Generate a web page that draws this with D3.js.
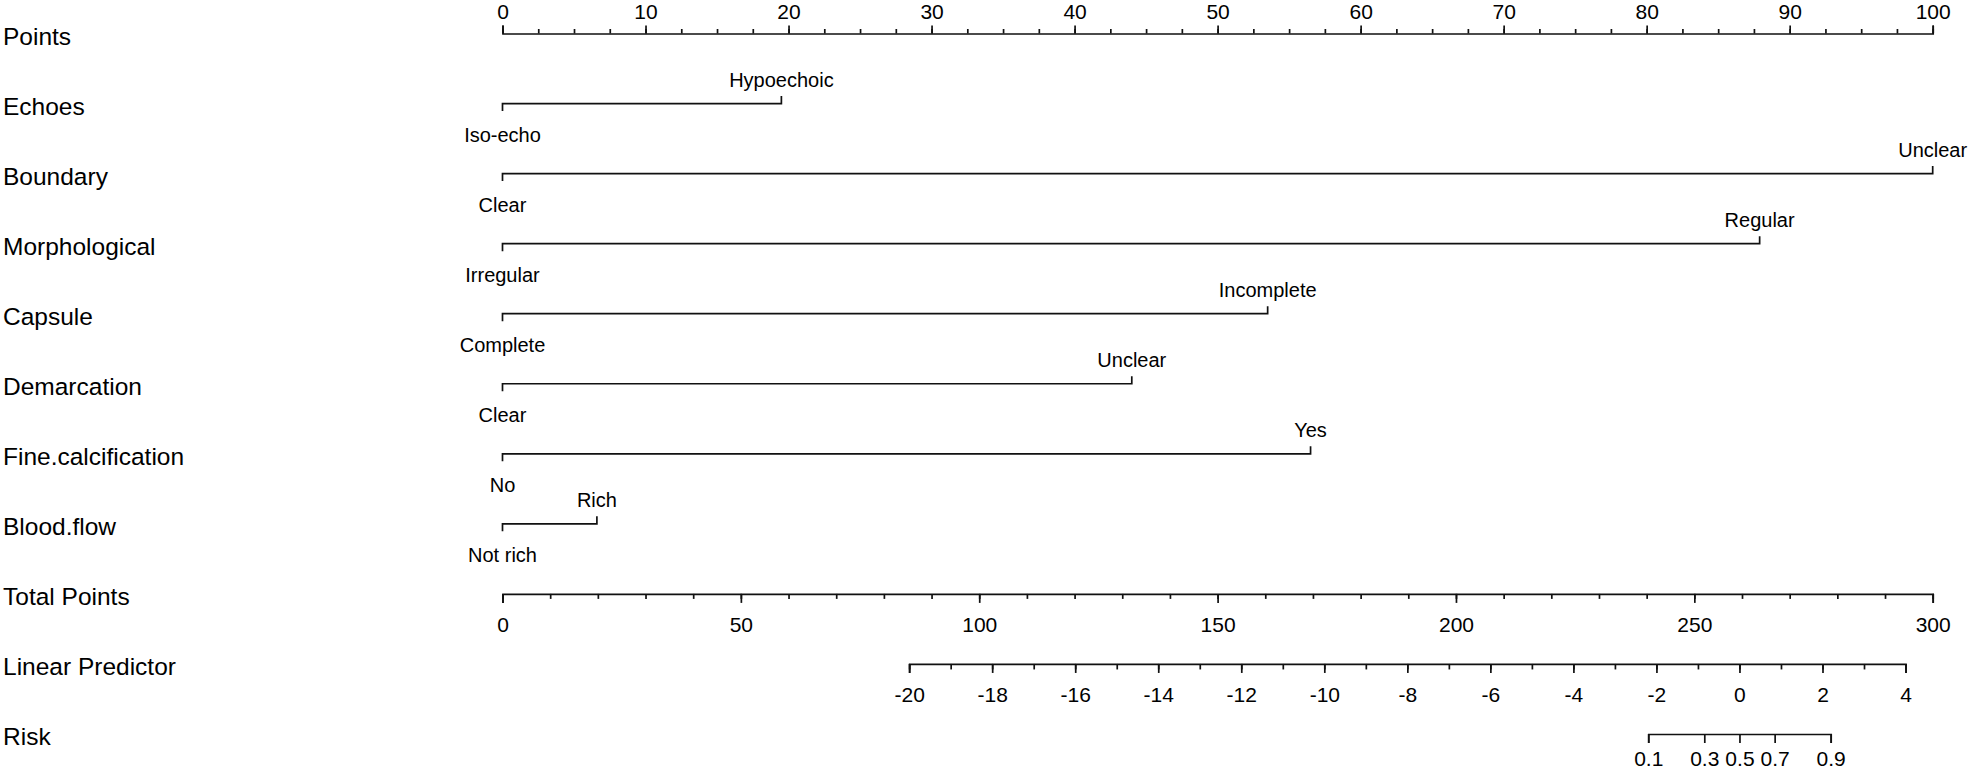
<!DOCTYPE html>
<html>
<head>
<meta charset="utf-8">
<script src="https://cdn.jsdelivr.net/npm/d3@7"></script>
<style>
  html,body{margin:0;padding:0;background:#fff;}
  svg{display:block;}
  text{font-family:"Liberation Sans", Arial, sans-serif;fill:#000;}
</style>
</head>
<body>
<svg id="chart" width="1969" height="772"></svg>
<script>
// ---------------- DATA ----------------
const rowLabels = ["Points","Echoes","Boundary","Morphological","Capsule","Demarcation",
                   "Fine.calcification","Blood.flow","Total Points","Linear Predictor","Risk"];

const variables  = ["Echoes","Boundary","Morphological","Capsule","Demarcation","Fine.calcification","Blood.flow"];
const lowLevels  = ["Iso-echo","Clear","Irregular","Complete","Clear","No","Not rich"];
const highLevels = ["Hypoechoic","Unclear","Regular","Incomplete","Unclear","Yes","Rich"];
const lowPoints  = [0, 0, 0, 0, 0, 0, 0];
const highPoints = [19.5, 100, 87.9, 53.5, 44.0, 56.5, 6.6];

const pointsRange = [0, 100];
const pointsMajor = [0,10,20,30,40,50,60,70,80,90,100];
const totalRange  = [0, 300];
const totalMajor  = [0,50,100,150,200,250,300];
const lpRange     = [-20, 4];
const lpAtTotal   = [85.3, 294.3];   // total points where LP = -20 and LP = 4
const lpMajor     = [-20,-18,-16,-14,-12,-10,-8,-6,-4,-2,0,2,4];
const riskTicks   = [0.1, 0.3, 0.5, 0.7, 0.9];

// ---------------- LAYOUT ----------------
const svg = d3.select("#chart");
const X0 = 502.5, X1 = 1932.7;
const rowY = d3.scaleLinear().domain([0, rowLabels.length - 1]).range([33.5, 734]);
const ink = "#111";
const SW = 1.7;

const xPts = d3.scaleLinear().domain(pointsRange).range([X0, X1]);
const xTot = d3.scaleLinear().domain(totalRange).range([X0, X1]);
const xLP  = d3.scaleLinear().domain(lpRange).range(lpAtTotal.map(xTot));
const logit = p => Math.log(p / (1 - p));
const xRisk = d3.scaleLinear()
  .domain([logit(riskTicks[0]), logit(riskTicks[riskTicks.length - 1])])
  .range([xLP(logit(riskTicks[0])), xLP(logit(riskTicks[riskTicks.length - 1]))]);

// row labels
svg.append("g").selectAll("text").data(rowLabels).join("text")
  .attr("x", 3)
  .attr("y", (d, i) => rowY(i) + 11)
  .attr("font-size", 24.5)
  .text(d => d);

function styleAxis(g, fs) {
  g.attr("font-family", null).attr("font-size", null);
  g.selectAll("path.domain").attr("stroke", ink).attr("stroke-width", SW);
  g.selectAll(".tick line").attr("stroke", ink).attr("stroke-width", SW);
  g.selectAll(".tick text").attr("font-size", fs).attr("fill", "#000");
}

const TFS = 21;

// ---- Points axis (top) ----
{
  const y = rowY(0);
  const gMin = svg.append("g").attr("transform", `translate(0,${y})`)
    .call(d3.axisTop(xPts).tickValues(d3.range(0, 100.01, 2.5)).tickSize(4.5).tickFormat(""));
  gMin.select(".domain").remove();
  styleAxis(gMin, TFS);
  const g = svg.append("g").attr("transform", `translate(0,${y})`)
    .call(d3.axisTop(xPts).tickValues(pointsMajor).tickSize(8).tickSizeOuter(8).tickPadding(6.3).tickFormat(d3.format("d")));
  styleAxis(g, TFS);
}

// ---- Variable rows ----
const vg = svg.append("g");
variables.forEach((v, i) => {
  const y = rowY(i + 1);
  const xa = xPts(lowPoints[i]), xb = xPts(highPoints[i]);
  vg.append("path")
    .attr("d", `M${xa},${y + 7.5}V${y}H${xb}V${y - 7.5}`)
    .attr("fill", "none").attr("stroke", ink).attr("stroke-width", SW);
  vg.append("text").attr("x", xb).attr("y", y - 17)
    .attr("text-anchor", "middle").attr("font-size", 20).text(highLevels[i]);
  vg.append("text").attr("x", xa).attr("y", y + 38)
    .attr("text-anchor", "middle").attr("font-size", 20).text(lowLevels[i]);
});

// ---- Total Points axis ----
{
  const y = rowY(8);
  const gMin = svg.append("g").attr("transform", `translate(0,${y})`)
    .call(d3.axisBottom(xTot).tickValues(d3.range(0, 300.01, 10)).tickSize(5).tickFormat(""));
  gMin.select(".domain").remove();
  styleAxis(gMin, TFS);
  const g = svg.append("g").attr("transform", `translate(0,${y})`)
    .call(d3.axisBottom(xTot).tickValues(totalMajor).tickSize(9).tickSizeOuter(9).tickPadding(14).tickFormat(d3.format("d")));
  styleAxis(g, TFS);
}

// ---- Linear Predictor axis ----
{
  const y = rowY(9);
  const gMin = svg.append("g").attr("transform", `translate(0,${y})`)
    .call(d3.axisBottom(xLP).tickValues(d3.range(-20, 4.01, 1)).tickSize(5.5).tickFormat(""));
  gMin.select(".domain").remove();
  styleAxis(gMin, TFS);
  const g = svg.append("g").attr("transform", `translate(0,${y})`)
    .call(d3.axisBottom(xLP).tickValues(lpMajor).tickSize(9).tickSizeOuter(9).tickPadding(14).tickFormat(d3.format("d")));
  styleAxis(g, TFS);
  g.selectAll(".tick text").text(d => String(d));
}

// ---- Risk axis ----
{
  const y = rowY(10);
  const g = svg.append("g").attr("transform", `translate(0,${y})`)
    .call(d3.axisBottom(xRisk).tickValues(riskTicks.map(logit)).tickSize(9).tickSizeOuter(9).tickPadding(8.5)
      .tickFormat((d, i) => String(riskTicks[i])));
  styleAxis(g, TFS);
}
</script>
</body>
</html>
